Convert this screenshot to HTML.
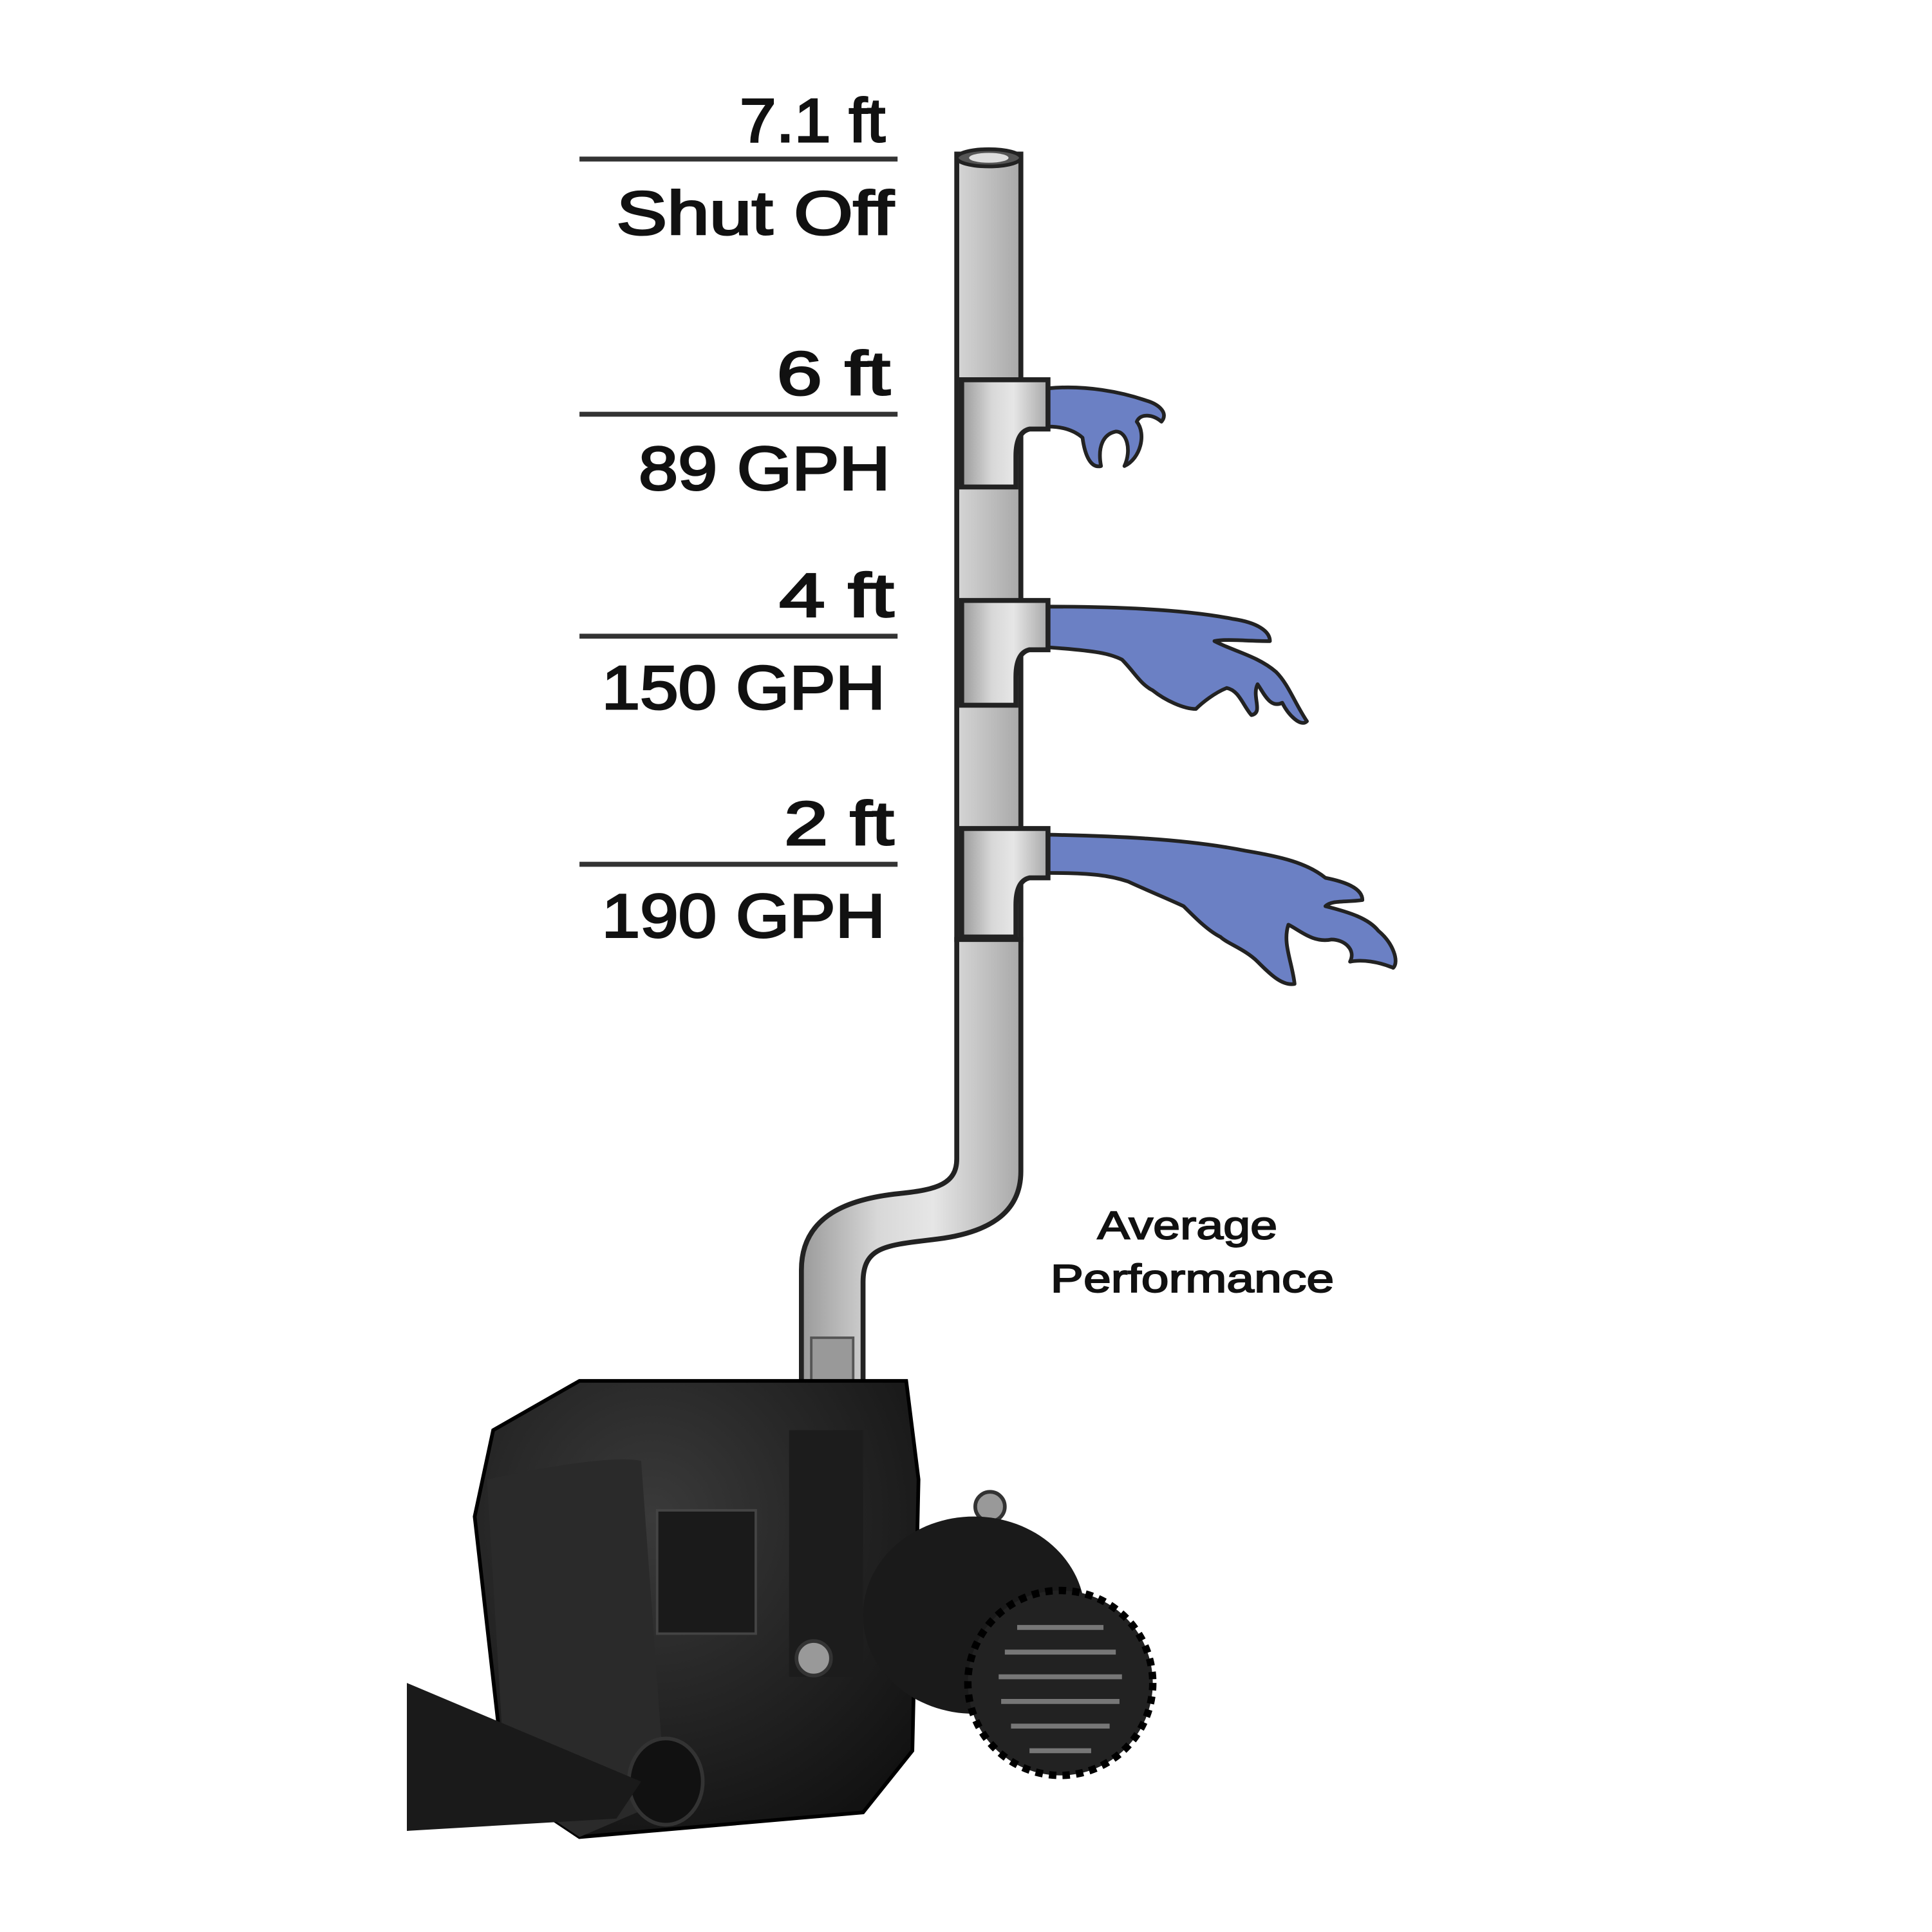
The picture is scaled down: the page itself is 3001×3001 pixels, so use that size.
<!DOCTYPE html>
<html><head><meta charset="utf-8"><style>
html,body{margin:0;padding:0;background:#fff;}
svg{display:block;}
text{font-family:"Liberation Sans","DejaVu Sans",sans-serif;fill:#111;}
</style></head><body>
<svg width="3001" height="3001" viewBox="0 0 1567 1567" xmlns="http://www.w3.org/2000/svg">
<defs>
<linearGradient id="pg" x1="0" x2="1" y1="0" y2="0">
<stop offset="0" stop-color="#9a9a9a"/><stop offset="0.35" stop-color="#d8d8d8"/><stop offset="0.6" stop-color="#e6e6e6"/><stop offset="1" stop-color="#a8a8a8"/>
</linearGradient>
<radialGradient id="pump" cx="0.4" cy="0.3" r="0.8">
<stop offset="0" stop-color="#3a3a3a"/><stop offset="1" stop-color="#111"/>
</radialGradient>
</defs>
<rect width="1567" height="1567" fill="#fff"/>

<!-- labels -->
<g font-size="50" stroke="#111" stroke-width="1.6">
<text x="600" y="115" textLength="118" lengthAdjust="spacingAndGlyphs">7.1 ft</text>
<text x="500" y="190" textLength="225" lengthAdjust="spacingAndGlyphs">Shut Off</text>
<text x="630" y="320" textLength="92" lengthAdjust="spacingAndGlyphs">6 ft</text>
<text x="518" y="397" textLength="204" lengthAdjust="spacingAndGlyphs">89 GPH</text>
<text x="632" y="500" textLength="93" lengthAdjust="spacingAndGlyphs">4 ft</text>
<text x="488" y="575" textLength="230" lengthAdjust="spacingAndGlyphs">150 GPH</text>
<text x="636" y="685" textLength="89" lengthAdjust="spacingAndGlyphs">2 ft</text>
<text x="488" y="760" textLength="230" lengthAdjust="spacingAndGlyphs">190 GPH</text>
</g>
<g stroke="#333" stroke-width="4">
<line x1="470" y1="129" x2="728" y2="129"/>
<line x1="470" y1="336" x2="728" y2="336"/>
<line x1="470" y1="516" x2="728" y2="516"/>
<line x1="470" y1="701" x2="728" y2="701"/>
</g>
<g font-size="32" stroke="#111" stroke-width="1">
<text x="890" y="1005" textLength="146" lengthAdjust="spacingAndGlyphs">Average</text>
<text x="852" y="1048" textLength="230" lengthAdjust="spacingAndGlyphs">Performance</text>
</g>

<!-- water -->
<g fill="#6b80c4" stroke="#222" stroke-width="3" stroke-linejoin="round">
<path d="M850 315 C880 312 910 318 930 325 C940 328 948 335 942 342 C935 336 925 335 922 342 C930 352 925 372 912 378 C918 365 914 350 905 350 C895 352 890 362 893 378 C885 380 880 370 878 355 C870 348 860 346 850 346 Z"/>
<path d="M850 492 C900 492 960 494 1000 502 C1020 505 1030 512 1030 520 C1010 520 995 518 985 520 C1000 528 1020 532 1035 545 C1045 555 1050 570 1060 585 C1055 590 1045 580 1040 570 C1030 575 1025 562 1020 555 C1015 565 1025 578 1015 580 C1008 572 1005 560 995 558 C985 562 975 570 970 575 C960 575 945 568 935 560 C925 555 920 545 910 535 C900 530 890 528 850 525 Z"/>
<path d="M850 677 C900 678 960 680 1010 690 C1040 695 1060 700 1075 712 C1090 715 1105 720 1105 730 C1090 732 1080 730 1075 735 C1095 740 1110 745 1118 755 C1130 765 1135 780 1130 785 C1118 780 1105 778 1095 780 C1100 770 1090 762 1080 762 C1065 765 1055 755 1045 750 C1040 765 1048 780 1050 798 C1040 800 1030 790 1020 780 C1010 770 995 765 990 760 C980 755 970 745 960 735 C945 728 930 722 915 715 C900 710 885 708 850 708 Z"/>
</g>

<!-- pipe -->
<path d="M776 125 L776 940 C776 960 760 965 730 968 C690 972 650 985 650 1030 L650 1165 L700 1165 L700 1040 C700 1010 720 1010 760 1005 C800 1000 828 985 828 950 L828 125 Z" fill="url(#pg)" stroke="#222" stroke-width="4"/>
<ellipse cx="802" cy="128" rx="26" ry="7" fill="#555" stroke="#222" stroke-width="3"/>
<ellipse cx="802" cy="128" rx="16" ry="4" fill="#ddd"/>
<!-- tees -->
<g fill="url(#pg)" stroke="#222" stroke-width="4">
<path d="M780 308 L850 308 L850 348 L835 348 C826 350 824 360 824 370 L824 395 L780 395 Z"/>
<path d="M780 487 L850 487 L850 527 L835 527 C826 529 824 539 824 549 L824 572 L780 572 Z"/>
<path d="M780 672 L850 672 L850 712 L835 712 C826 714 824 724 824 734 L824 760 L780 760 Z"/>
</g>
<line x1="774" y1="762" x2="830" y2="762" stroke="#222" stroke-width="4"/>
<rect x="658" y="1085" width="34" height="80" fill="#999" stroke="#555" stroke-width="2"/>

<!-- pump body -->
<path d="M400 1160 L470 1120 L735 1120 L745 1200 L740 1420 L700 1470 L470 1490 L410 1450 L385 1230 Z" fill="url(#pump)" stroke="#000" stroke-width="3"/>
<path d="M395 1200 C440 1190 500 1180 520 1185 L540 1460 L470 1490 L410 1450 Z" fill="#2a2a2a"/>
<rect x="533" y="1225" width="80" height="100" fill="#1a1a1a" stroke="#444" stroke-width="2"/>
<rect x="640" y="1160" width="60" height="200" fill="#1c1c1c"/>
<circle cx="660" cy="1345" r="14" fill="#999" stroke="#333" stroke-width="3"/>
<circle cx="803" cy="1222" r="12" fill="#999" stroke="#333" stroke-width="3"/>
<ellipse cx="540" cy="1445" rx="30" ry="35" fill="#111" stroke="#333" stroke-width="3"/>
<path d="M330 1365 L330 1485 L500 1475 L520 1445 Z" fill="#1a1a1a"/>
<!-- impeller -->
<ellipse cx="790" cy="1310" rx="90" ry="80" fill="#1a1a1a"/>
<circle cx="860" cy="1365" r="75" fill="#222" stroke="#000" stroke-width="6" stroke-dasharray="6 5"/>
<g stroke="#777" stroke-width="4">
<line x1="825" y1="1320" x2="895" y2="1320"/><line x1="815" y1="1340" x2="905" y2="1340"/>
<line x1="810" y1="1360" x2="910" y2="1360"/><line x1="812" y1="1380" x2="908" y2="1380"/>
<line x1="820" y1="1400" x2="900" y2="1400"/><line x1="835" y1="1420" x2="885" y2="1420"/>
</g>
</svg>
</body></html>
